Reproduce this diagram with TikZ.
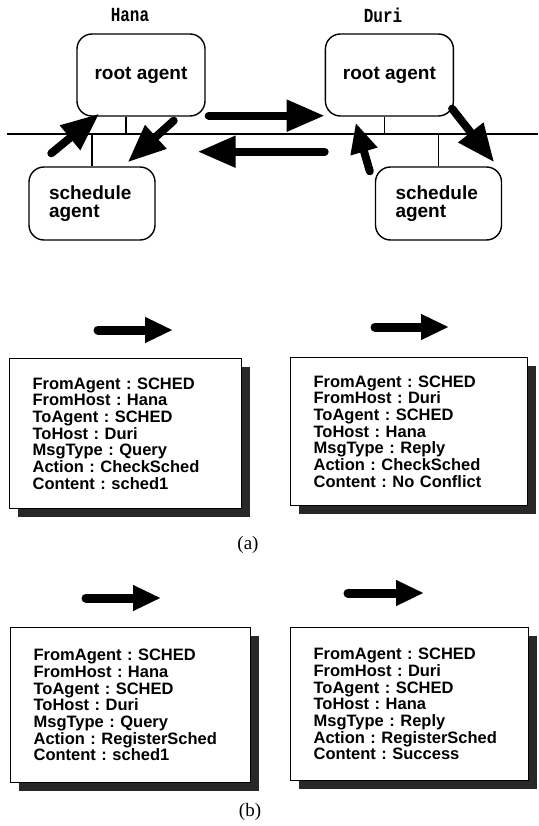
\documentclass[tikz,border=0pt]{standalone}
\usepackage{fontspec}
\setmainfont{Liberation Sans}
\newfontfamily\hostfont[FakeStretch=0.8]{Liberation Mono}
\newfontfamily\capfont{Liberation Serif}
\usetikzlibrary{arrows.meta, positioning, shadows}
\definecolor{scan}{RGB}{40,40,40}
\frenchspacing

\begin{document}
\begin{tikzpicture}[
    x=1pt, y=-1pt,
    agent/.style={draw, line width=1.4pt, rounded corners=15pt, minimum width=128pt, minimum height=82pt,
      font=\fontsize{19}{18}\selectfont\bfseries},
    sched/.style={agent, minimum width=126pt, minimum height=73pt, align=left, text width=86pt, inner xsep=20pt},
    host/.style={font=\hostfont\fontsize{20}{20}\selectfont\bfseries},
    fat/.style={line width=8pt, line cap=round, -{Triangle[length=38pt, width=30pt]}},
    msgarrow/.style={line width=9pt, line cap=round, -{Triangle[length=28pt, width=24pt]}},
    msg/.style={draw, line width=1.2pt, fill=white, anchor=north west, align=left, inner xsep=23pt,
      font=\fontsize{16.5}{16.7}\selectfont\bfseries,
      drop shadow={shadow xshift=8pt, shadow yshift=-8pt, fill=scan, opacity=1}},
    figcap/.style={font=\capfont\fontsize{19}{19}\selectfont},
  ]
  \useasboundingbox (0,0) rectangle (538,826);

  % hosts and agents
  \node[host] (hana) at (130,15) {Hana};
  \node[host] (duri) at (383,15) {Duri};
  \node[agent] (hroot) at (141,75) {root agent};
  \node[agent] (droot) [right=119pt of hroot] {root agent};
  \node[sched] (hsched) at (92,203.5) {schedule\\agent};
  \node[sched] (dsched) at (438.5,203.5) {schedule\\agent};

  % network line
  \coordinate (busL) at (7,134);
  \coordinate (busR) at (538,134);
  \draw[line width=1.4pt] (busL) -- (busR);
  \draw[line width=1.2pt] ([xshift=-15pt]hroot.south) -- ([xshift=-15pt]hroot.south |- busL);
  \draw[line width=1.2pt] ([xshift=-5pt]droot.south) -- ([xshift=-5pt]droot.south |- busL);
  \draw[line width=1.2pt] (hsched.north) -- (hsched.north |- busL);
  \draw[line width=1.2pt] (dsched.north) -- (dsched.north |- busL);

  % message flow
  \draw[fat] ([xshift=23pt, yshift=13pt]hsched.north west) -- ([xshift=23pt, yshift=3pt]hroot.south west);
  \draw[fat] ([xshift=-32pt, yshift=-4pt]hroot.south east) -- ([xshift=-28pt, yshift=4pt]hsched.north east);
  \draw[fat] ([xshift=3pt, yshift=1pt]hroot.south east) -- ([yshift=1pt]droot.south west);
  \draw[fat] ([yshift=-35pt]droot.south west) -- ([xshift=-8pt, yshift=-35pt]hroot.south east);
  \draw[fat, -{Triangle[length=30pt, width=26pt]}] ([xshift=-5pt, yshift=-5pt]dsched.north west) -- ([xshift=31pt, yshift=-6pt]droot.south west);
  \draw[fat] ([xshift=-2pt, yshift=8pt]droot.south east) -- ([xshift=-8pt, yshift=4pt]dsched.north east);

  % (a)
  \node[msg, text width=186pt, minimum height=150pt] (msgA) at (9,358)
    {FromAgent : SCHED\\FromHost : Hana\\ToAgent : SCHED\\ToHost : Duri\\MsgType : Query\\Action : CheckSched\\Content : sched1};
  \node[msg, text width=191pt, minimum height=148pt] (msgB) at (290,357)
    {FromAgent : SCHED\\FromHost : Duri\\ToAgent : SCHED\\ToHost : Hana\\MsgType : Reply\\Action : CheckSched\\Content : No Conflict};
  \draw[msgarrow] ([xshift=89pt, yshift=28pt]msgA.north west) -- ++(75,0);
  \draw[msgarrow] ([xshift=85pt, yshift=30pt]msgB.north west) -- ++(74,0);
  \node[figcap] (capA) at (248,545) {(a)};

  % (b)
  \node[msg, text width=194pt, minimum height=155pt] (msgC) at (10,627)
    {FromAgent : SCHED\\FromHost : Hana\\ToAgent : SCHED\\ToHost : Duri\\MsgType : Query\\Action : RegisterSched\\Content : sched1};
  \node[msg, text width=192pt, minimum height=153pt] (msgD) at (290,627)
    {FromAgent : SCHED\\FromHost : Duri\\ToAgent : SCHED\\ToHost : Hana\\MsgType : Reply\\Action : RegisterSched\\Content : Success};
  \draw[msgarrow] ([xshift=76pt, yshift=29pt]msgC.north west) -- ++(75,0);
  \draw[msgarrow] ([xshift=58pt, yshift=34pt]msgD.north west) -- ++(76,0);
  \node[figcap] (capB) at (250,812) {(b)};
\end{tikzpicture}
\end{document}
